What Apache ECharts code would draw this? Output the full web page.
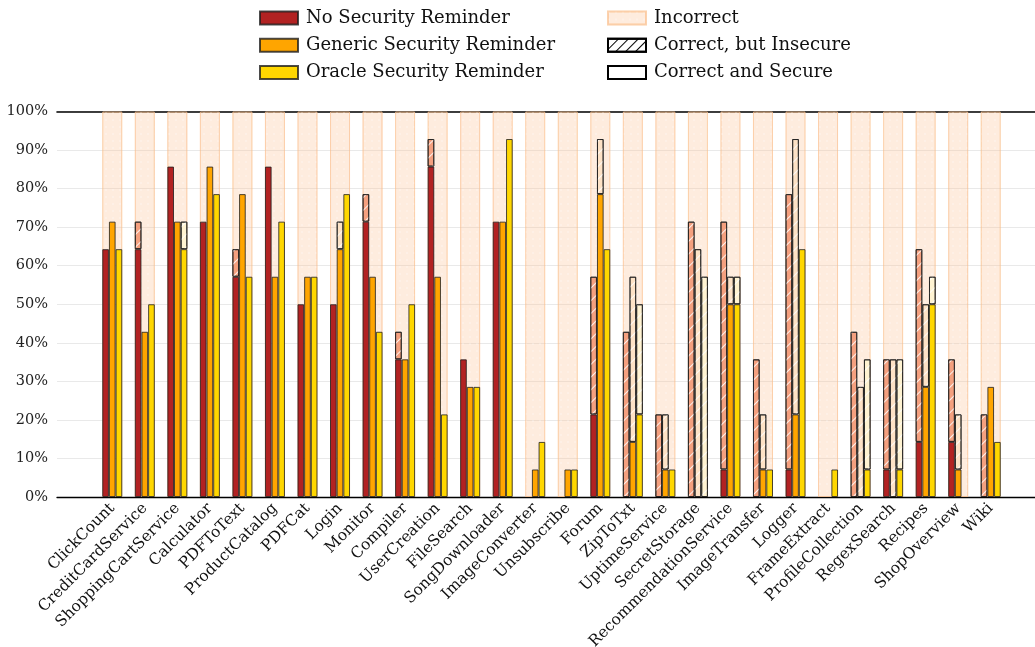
<!DOCTYPE html>
<html>
<head>
<meta charset="utf-8">
<script src="https://cdn.jsdelivr.net/npm/echarts@6/dist/echarts.min.js"></script>
<style>html,body{margin:0;padding:0;background:#fff;}#c{width:1035px;height:647px;}</style>
</head>
<body>
<div id="c"></div>
<script>
const categories = ['ClickCount','CreditCardService','ShoppingCartService','Calculator','PDFToText','ProductCatalog','PDFCat','Login','Monitor','Compiler','UserCreation','FileSearch','SongDownloader','ImageConverter','Unsubscribe','Forum','ZipToTxt','UptimeService','SecretStorage','RecommendationService','ImageTransfer','Logger','FrameExtract','ProfileCollection','RegexSearch','Recipes','ShopOverview','Wiki'];

// percent of programs: correct and secure (solid part)
const noSecure  = [64.29,64.29,85.71,71.43,57.14,85.71,50,50,71.43,35.71,85.71,35.71,71.43,0,0,21.43,0,0,0,7.14,0,7.14,0,0,7.14,14.29,14.29,0];
// percent of programs: correct (top of bar)
const noCorrect = [64.29,71.43,85.71,71.43,64.29,85.71,50,50,78.57,42.86,92.86,35.71,71.43,0,0,57.14,42.86,21.43,71.43,71.43,35.71,78.57,0,42.86,35.71,64.29,35.71,21.43];

const genSecure  = [71.43,42.86,71.43,85.71,78.57,57.14,57.14,64.29,57.14,35.71,57.14,28.57,71.43,7.14,7.14,78.57,14.29,7.14,0,50,7.14,21.43,0,0,0,28.57,7.14,28.57];
const genCorrect = [71.43,42.86,71.43,85.71,78.57,57.14,57.14,71.43,57.14,35.71,57.14,28.57,71.43,7.14,7.14,92.86,57.14,21.43,64.29,57.14,21.43,92.86,0,28.57,35.71,50,21.43,28.57];

const oraSecure  = [64.29,50,64.29,78.57,57.14,71.43,57.14,78.57,42.86,50,21.43,28.57,92.86,14.29,7.14,64.29,21.43,7.14,0,50,7.14,64.29,7.14,7.14,7.14,50,0,14.29];
const oraCorrect = [64.29,50,71.43,78.57,57.14,71.43,57.14,78.57,42.86,50,21.43,28.57,92.86,14.29,7.14,64.29,50,7.14,57.14,57.14,7.14,64.29,7.14,35.71,35.71,57.14,0,14.29];

// background "Incorrect" band (full scale behind each task)
const incorrectBand = [100,100,100,100,100,100,100,100,100,100,100,100,100,100,100,100,100,100,100,100,100,100,100,100,100,100,100,100];

const yTicks = [0,10,20,30,40,50,60,70,80,90,100];

const FONT = 'DejaVu Serif';
const nz = v => (v > 0 ? v : null);
const insecure = (c, s) => c.map((v, i) => nz(+(v - s[i]).toFixed(2)));

const hatch = (col, w, gap) => ({symbol:'rect', dashArrayX:[1,0], dashArrayY:[w,gap], rotation:-Math.PI/4, color:col});
const border = {borderColor:'rgba(30,30,30,0.8)', borderWidth:1};
const barW = 6.67;

function solid(name, stack, data, color){
  return {name, type:'bar', xAxisIndex:2, yAxisIndex:1, stack, barWidth:barW, barGap:'0%',
    data:data.map(nz), z:3, itemStyle:Object.assign({color}, border)};
}
function hatched(name, stack, data, color){
  return {name, type:'bar', xAxisIndex:2, yAxisIndex:1, stack, barWidth:barW, barGap:'0%',
    data, z:3, itemStyle:Object.assign({color, decal:hatch('rgba(255,255,255,0.85)', 1, 8)}, border)};
}

const legendBase = {top:4, orient:'vertical', itemWidth:38, itemHeight:13, itemGap:9.3, icon:'rect',
  selectedMode:false,
  textStyle:{fontFamily:FONT, fontSize:18, color:'#111', padding:[0,0,0,3]}};

const chart = echarts.init(document.getElementById('c'), null, {renderer:'canvas'});
chart.setOption({
  animation:false,
  legend:[
    Object.assign({left:254, data:['No Security Reminder','Generic Security Reminder','Oracle Security Reminder']}, legendBase),
    Object.assign({left:602, data:['Incorrect','Correct, but Insecure','Correct and Secure']}, legendBase)
  ],
  grid:[
    {left:57, top:111.5, width:1000, height:385.5, outerBoundsMode:'none', containLabel:false},
    {left:96, top:111.5, width:911, height:385.5, outerBoundsMode:'none', containLabel:false}
  ],
  xAxis:[
    {gridIndex:0, type:'value', min:0, max:1, position:'bottom',
     axisLine:{show:true, lineStyle:{color:'#000', width:1.3}}, axisTick:{show:false}, axisLabel:{show:false}, splitLine:{show:false}},
    {gridIndex:0, type:'value', min:0, max:1, position:'top',
     axisLine:{show:true, lineStyle:{color:'#000', width:1.6}}, axisTick:{show:false}, axisLabel:{show:false}, splitLine:{show:false}},
    {gridIndex:1, type:'category', data:categories, position:'bottom',
     axisLine:{show:false}, axisTick:{show:false},
     axisLabel:{interval:0, rotate:45, margin:9, fontFamily:FONT, fontSize:15.5, color:'#111'}},
    {gridIndex:1, type:'category', data:categories, show:false},
    {gridIndex:1, type:'category', data:categories, show:false}
  ],
  yAxis:[
    {gridIndex:0, type:'value', min:0, max:100, interval:10,
     axisLine:{show:false}, axisTick:{show:false},
     axisLabel:{formatter:v => yTicks.includes(v) ? v + '%' : '', fontFamily:FONT, fontSize:14.5, color:'#222', margin:9},
     splitLine:{show:true, lineStyle:{color:'#e9e9e9', width:1}}},
    {gridIndex:1, type:'value', min:0, max:100, show:false}
  ],
  series:[
    {name:'Incorrect', type:'bar', xAxisIndex:3, yAxisIndex:1, barWidth:20, data:incorrectBand, z:1,
     itemStyle:{color:'rgba(251,196,154,0.33)', borderColor:'rgba(250,190,140,0.45)', borderWidth:1,
       decal:{symbol:'circle', symbolSize:0.7, dashArrayX:[[2,5]], dashArrayY:[2,5], color:'rgba(255,255,255,0.65)'}}},
    solid('No Security Reminder','no', noSecure, '#b22222'),
    hatched('No (insecure)','no', insecure(noCorrect, noSecure), '#f4a07f'),
    solid('Generic Security Reminder','gen', genSecure, '#ffa500'),
    hatched('Generic (insecure)','gen', insecure(genCorrect, genSecure), '#fde2c6'),
    solid('Oracle Security Reminder','ora', oraSecure, '#ffd700'),
    hatched('Oracle (insecure)','ora', insecure(oraCorrect, oraSecure), '#fff3d2'),
    {name:'Correct, but Insecure', type:'bar', xAxisIndex:4, yAxisIndex:1, data:[],
     itemStyle:{color:'#fff', borderColor:'#000', borderWidth:1, decal:hatch('#000', 1, 6)}},
    {name:'Correct and Secure', type:'bar', xAxisIndex:4, yAxisIndex:1, data:[],
     itemStyle:{color:'#fff', borderColor:'#000', borderWidth:1}}
  ]
});
</script>
</body>
</html>
